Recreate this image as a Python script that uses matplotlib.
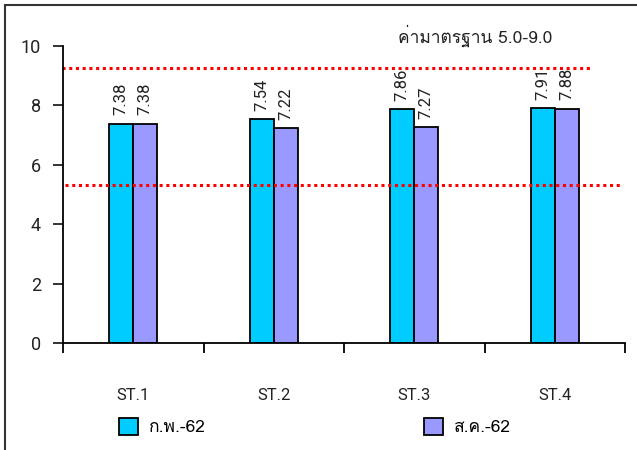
import matplotlib
matplotlib.use('Agg')
import matplotlib.pyplot as plt
from matplotlib import font_manager
from matplotlib.patches import Rectangle
import numpy as np

# data
stations = ['ST.1', 'ST.2', 'ST.3', 'ST.4']
feb_62 = [7.38, 7.54, 7.86, 7.91]
aug_62 = [7.38, 7.22, 7.27, 7.88]
series_names = ['ก.พ.-62', 'ส.ค.-62']
standard_note = 'ค่ามาตรฐาน 5.0-9.0'
limit_lines = [9.25, 5.31]

# look for a font that has Thai glyphs (prefer Loma)
thai_fonts = []
for f in font_manager.fontManager.ttflist:
    try:
        if 0x0E04 in font_manager.get_font(f.fname).get_charmap():
            if f.name not in thai_fonts:
                thai_fonts.append(f.name)
    except Exception:
        pass
if 'Loma' in thai_fonts:
    thai_fonts.remove('Loma')
    thai_fonts.insert(0, 'Loma')
thai_family = thai_fonts[:1] + ['DejaVu Sans']

plt.rcParams['font.family'] = ['Roboto', 'DejaVu Sans']
plt.rcParams['font.size'] = 12

W, H = 637, 450
fig = plt.figure(figsize=(W / 100, H / 100), dpi=100)
ax = fig.add_axes([63 / W, 1 - 343 / H, 562 / W, 297.3 / H])

x = np.arange(len(stations))
width = 0.17
b1 = ax.bar(x - width / 2, feb_62, width, color='#00CCFF', edgecolor='black', linewidth=1.3, label=series_names[0])
b2 = ax.bar(x + width / 2, aug_62, width, color='#9999FF', edgecolor='black', linewidth=1.3, label=series_names[1])

for bars, vals in [(b1, feb_62), (b2, aug_62)]:
    for rect, v in zip(bars, vals):
        ax.annotate(f'{v:.2f}', (rect.get_x() + rect.get_width() / 2, v),
                    xytext=(0, 6), textcoords='offset points',
                    rotation=90, ha='center', va='bottom', fontsize=12, color='#222222')

ax.axhline(limit_lines[0], xmin=-0.002, xmax=0.942, color='red', linestyle=(0, (1, 1.2)), lw=2.2, clip_on=False)
ax.axhline(limit_lines[1], xmin=0.004, xmax=0.996, color='red', linestyle=(0, (1, 1.2)), lw=2.2, clip_on=False)

ax.set_xlim(-0.5, len(stations) - 0.5)
ax.set_ylim(0, 10)
ax.set_yticks([0, 2, 4, 6, 8, 10])
ax.set_xticks(np.arange(len(stations) + 1) - 0.5)
ax.set_xticklabels([])
ax.tick_params(axis='y', length=7, width=1.3, pad=9, labelsize=13, colors='#222222')
ax.tick_params(axis='x', length=7, width=1.3)
for s in ['top', 'right']:
    ax.spines[s].set_visible(False)
for s in ['left', 'bottom']:
    ax.spines[s].set_linewidth(1.3)

for i, name in enumerate(stations):
    ax.text(i, -1.75, name, ha='center', va='center', fontsize=12, color='#222222')

fig.text(475 / W, 1 - 36 / H, standard_note, ha='center', va='center', fontsize=12.5,
         color='#222222', family=thai_family)

ax.legend(handles=[b1, b2], ncol=2, frameon=False, loc='upper left',
          bbox_to_anchor=(119 / W, 1 - 418 / H), bbox_transform=fig.transFigure,
          borderpad=0, borderaxespad=0, handlelength=1.1, handleheight=1.1,
          handletextpad=0.6, columnspacing=12.6,
          prop={'family': thai_family, 'size': 12.5})

fig.patches.append(Rectangle((5 / W, -0.1), 1.1, (H - 5) / H + 0.1, transform=fig.transFigure,
                             fill=False, edgecolor='#333333', lw=1.5))

plt.savefig('out.png', dpi=100)
plt.close()
